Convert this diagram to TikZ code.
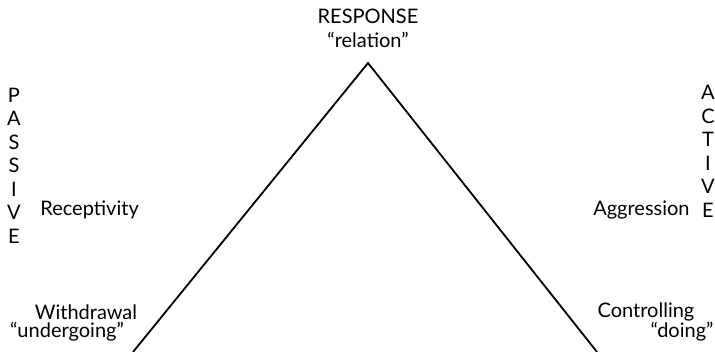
\documentclass[tikz,border=0pt]{standalone}
\usepackage{fontspec}
\setmainfont{Lato}
\usepackage{tikz}

\tikzset{
  lbl/.style={inner sep=0pt, font=\fontsize{10}{11.75}\selectfont},
  side/.style={lbl, align=center},
  edge/.style={line width=0.9pt}
}

\begin{document}
\begin{tikzpicture}[x=0.5pt,y=-0.5pt]
\useasboundingbox (0,0) rectangle (715,352);
% triangle
\coordinate (apex) at (368,63);
\coordinate (bl) at (133,352);
\coordinate (br) at (597,352);
\draw[edge] (bl) -- (apex) -- (br);
% top
\node[lbl] (resp) at (368,16) {RESPONSE};
\node[lbl] (rel) at (368,40) {“relation”};
% left side
\node[side] (passive) at (14,165.5) {P\\A\\S\\S\\I\\V\\E};
\node[lbl, anchor=west] (recep) at (40,210) {Receptivity};
\node[lbl] (withd) at (86,312) {Withdrawal};
\node[lbl] (under) at (67,332) {“undergoing”};
% right side
\node[side] (active) at (708,151.5) {A\\C\\T\\I\\V\\E};
\node[lbl, anchor=east] (aggr) at (690,210) {Aggression};
\node[lbl] (contr) at (646,312) {Controlling};
\node[lbl] (doing) at (682,332) {“doing”};
\end{tikzpicture}
\end{document}
